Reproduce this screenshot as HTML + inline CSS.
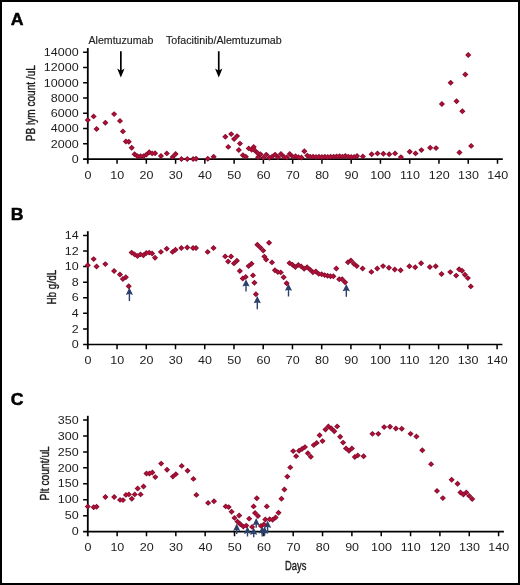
<!DOCTYPE html>
<html lang="en"><head><meta charset="utf-8"><title>Figure</title>
<style>
html,body{margin:0;padding:0;background:#fff;}
body{width:520px;height:585px;overflow:hidden;font-family:"Liberation Sans",sans-serif;}
svg{display:block;}
</style></head><body>
<svg width="520" height="585" viewBox="0 0 520 585" style="font-family:'Liberation Sans',sans-serif">
<rect x="0" y="0" width="520" height="585" fill="#fff"/>
<rect x="1" y="1" width="518" height="583" fill="none" stroke="#000" stroke-width="2"/>
<g id="panelA">
<path d="M87.8 48.10V163.75" stroke="#000" stroke-width="1.8" fill="none"/>
<path d="M83.10 159.05H502.80" stroke="#000" stroke-width="1.7" fill="none"/>
<path d="M83.10 143.80H87.8M83.10 128.55H87.8M83.10 113.30H87.8M83.10 98.05H87.8M83.10 82.80H87.8M83.10 67.55H87.8M83.10 52.30H87.8M117.06 159.05V163.75M146.33 159.05V163.75M175.59 159.05V163.75M204.86 159.05V163.75M234.12 159.05V163.75M263.39 159.05V163.75M292.65 159.05V163.75M321.91 159.05V163.75M351.18 159.05V163.75M380.44 159.05V163.75M409.71 159.05V163.75M438.97 159.05V163.75M468.24 159.05V163.75M497.50 159.05V163.75" stroke="#000" stroke-width="1.5" fill="none"/>
<text transform="translate(78.60 162.75) scale(1.203 1)" font-size="10.4" text-anchor="end" fill="#1c1c1c">0</text>
<text transform="translate(78.60 147.50) scale(1.203 1)" font-size="10.4" text-anchor="end" fill="#1c1c1c">2000</text>
<text transform="translate(78.60 132.25) scale(1.203 1)" font-size="10.4" text-anchor="end" fill="#1c1c1c">4000</text>
<text transform="translate(78.60 117.00) scale(1.203 1)" font-size="10.4" text-anchor="end" fill="#1c1c1c">6000</text>
<text transform="translate(78.60 101.75) scale(1.203 1)" font-size="10.4" text-anchor="end" fill="#1c1c1c">8000</text>
<text transform="translate(78.60 86.50) scale(1.203 1)" font-size="10.4" text-anchor="end" fill="#1c1c1c">10000</text>
<text transform="translate(78.60 71.25) scale(1.203 1)" font-size="10.4" text-anchor="end" fill="#1c1c1c">12000</text>
<text transform="translate(78.60 56.00) scale(1.203 1)" font-size="10.4" text-anchor="end" fill="#1c1c1c">14000</text>
<text transform="translate(88.00 178.65) scale(1.203 1)" font-size="10.4" text-anchor="middle" fill="#1c1c1c">0</text>
<text transform="translate(117.26 178.65) scale(1.203 1)" font-size="10.4" text-anchor="middle" fill="#1c1c1c">10</text>
<text transform="translate(146.53 178.65) scale(1.203 1)" font-size="10.4" text-anchor="middle" fill="#1c1c1c">20</text>
<text transform="translate(175.79 178.65) scale(1.203 1)" font-size="10.4" text-anchor="middle" fill="#1c1c1c">30</text>
<text transform="translate(205.06 178.65) scale(1.203 1)" font-size="10.4" text-anchor="middle" fill="#1c1c1c">40</text>
<text transform="translate(234.32 178.65) scale(1.203 1)" font-size="10.4" text-anchor="middle" fill="#1c1c1c">50</text>
<text transform="translate(263.59 178.65) scale(1.203 1)" font-size="10.4" text-anchor="middle" fill="#1c1c1c">60</text>
<text transform="translate(292.85 178.65) scale(1.203 1)" font-size="10.4" text-anchor="middle" fill="#1c1c1c">70</text>
<text transform="translate(322.11 178.65) scale(1.203 1)" font-size="10.4" text-anchor="middle" fill="#1c1c1c">80</text>
<text transform="translate(351.38 178.65) scale(1.203 1)" font-size="10.4" text-anchor="middle" fill="#1c1c1c">90</text>
<text transform="translate(380.64 178.65) scale(1.203 1)" font-size="10.4" text-anchor="middle" fill="#1c1c1c">100</text>
<text transform="translate(409.91 178.65) scale(1.203 1)" font-size="10.4" text-anchor="middle" fill="#1c1c1c">110</text>
<text transform="translate(439.17 178.65) scale(1.203 1)" font-size="10.4" text-anchor="middle" fill="#1c1c1c">120</text>
<text transform="translate(468.44 178.65) scale(1.203 1)" font-size="10.4" text-anchor="middle" fill="#1c1c1c">130</text>
<text transform="translate(497.70 178.65) scale(1.203 1)" font-size="10.4" text-anchor="middle" fill="#1c1c1c">140</text>
<g fill="#800d2d">
<path d="M87.80 117.15L90.85 120.10L87.80 123.05L84.75 120.10Z"/>
<path d="M93.65 113.45L96.70 116.40L93.65 119.35L90.60 116.40Z"/>
<path d="M96.58 126.05L99.63 129.00L96.58 131.95L93.53 129.00Z"/>
<path d="M105.36 119.85L108.41 122.80L105.36 125.75L102.31 122.80Z"/>
<path d="M114.14 111.15L117.19 114.10L114.14 117.05L111.09 114.10Z"/>
<path d="M119.99 117.95L123.04 120.90L119.99 123.85L116.94 120.90Z"/>
<path d="M122.92 128.45L125.97 131.40L122.92 134.35L119.87 131.40Z"/>
<path d="M125.84 138.55L128.89 141.50L125.84 144.45L122.79 141.50Z"/>
<path d="M128.77 138.75L131.82 141.70L128.77 144.65L125.72 141.70Z"/>
<path d="M131.70 144.85L134.75 147.80L131.70 150.75L128.65 147.80Z"/>
<path d="M134.62 151.35L137.67 154.30L134.62 157.25L131.57 154.30Z"/>
<path d="M137.55 153.35L140.60 156.30L137.55 159.25L134.50 156.30Z"/>
<path d="M140.48 153.35L143.53 156.30L140.48 159.25L137.43 156.30Z"/>
<path d="M143.40 153.35L146.45 156.30L143.40 159.25L140.35 156.30Z"/>
<path d="M146.33 151.65L149.38 154.60L146.33 157.55L143.28 154.60Z"/>
<path d="M149.25 149.35L152.31 152.30L149.25 155.25L146.20 152.30Z"/>
<path d="M152.18 150.45L155.23 153.40L152.18 156.35L149.13 153.40Z"/>
<path d="M155.11 150.25L158.16 153.20L155.11 156.15L152.06 153.20Z"/>
<path d="M160.96 153.05L164.01 156.00L160.96 158.95L157.91 156.00Z"/>
<path d="M166.81 150.45L169.86 153.40L166.81 156.35L163.76 153.40Z"/>
<path d="M172.67 153.95L175.72 156.90L172.67 159.85L169.62 156.90Z"/>
<path d="M175.59 151.05L178.64 154.00L175.59 156.95L172.54 154.00Z"/>
<path d="M181.45 156.05L184.50 159.00L181.45 161.95L178.40 159.00Z"/>
<path d="M187.30 156.05L190.35 159.00L187.30 161.95L184.25 159.00Z"/>
<path d="M193.15 156.05L196.20 159.00L193.15 161.95L190.10 159.00Z"/>
<path d="M196.08 155.85L199.13 158.80L196.08 161.75L193.03 158.80Z"/>
<path d="M207.78 155.85L210.83 158.80L207.78 161.75L204.73 158.80Z"/>
<path d="M213.64 153.75L216.69 156.70L213.64 159.65L210.59 156.70Z"/>
<path d="M225.34 133.75L228.39 136.70L225.34 139.65L222.29 136.70Z"/>
<path d="M228.27 143.95L231.32 146.90L228.27 149.85L225.22 146.90Z"/>
<path d="M231.19 131.15L234.25 134.10L231.19 137.05L228.14 134.10Z"/>
<path d="M234.12 136.05L237.17 139.00L234.12 141.95L231.07 139.00Z"/>
<path d="M237.05 133.15L240.10 136.10L237.05 139.05L234.00 136.10Z"/>
<path d="M239.97 140.65L243.02 143.60L239.97 146.55L236.92 143.60Z"/>
<path d="M238.80 147.05L241.85 150.00L238.80 152.95L235.75 150.00Z"/>
<path d="M242.90 152.25L245.95 155.20L242.90 158.15L239.85 155.20Z"/>
<path d="M245.83 153.75L248.88 156.70L245.83 159.65L242.78 156.70Z"/>
<path d="M248.75 145.45L251.80 148.40L248.75 151.35L245.70 148.40Z"/>
<path d="M251.68 146.85L254.73 149.80L251.68 152.75L248.63 149.80Z"/>
<path d="M253.73 144.05L256.78 147.00L253.73 149.95L250.68 147.00Z"/>
<path d="M254.61 147.35L257.66 150.30L254.61 153.25L251.56 150.30Z"/>
<path d="M257.53 150.05L260.58 153.00L257.53 155.95L254.48 153.00Z"/>
<path d="M258.12 154.25L261.17 157.20L258.12 160.15L255.07 157.20Z"/>
<path d="M260.46 151.25L263.51 154.20L260.46 157.15L257.41 154.20Z"/>
<path d="M263.39 154.65L266.44 157.60L263.39 160.55L260.34 157.60Z"/>
<path d="M266.31 151.65L269.36 154.60L266.31 157.55L263.26 154.60Z"/>
<path d="M269.24 154.85L272.29 157.80L269.24 160.75L266.19 157.80Z"/>
<path d="M272.16 153.65L275.21 156.60L272.16 159.55L269.11 156.60Z"/>
<path d="M275.09 151.65L278.14 154.60L275.09 157.55L272.04 154.60Z"/>
<path d="M278.02 154.35L281.07 157.30L278.02 160.25L274.97 157.30Z"/>
<path d="M280.94 151.05L283.99 154.00L280.94 156.95L277.89 154.00Z"/>
<path d="M283.87 153.85L286.92 156.80L283.87 159.75L280.82 156.80Z"/>
<path d="M286.80 154.45L289.85 157.40L286.80 160.35L283.75 157.40Z"/>
<path d="M289.72 151.05L292.77 154.00L289.72 156.95L286.67 154.00Z"/>
<path d="M292.65 153.65L295.70 156.60L292.65 159.55L289.60 156.60Z"/>
<path d="M295.58 153.25L298.63 156.20L295.58 159.15L292.53 156.20Z"/>
<path d="M298.50 154.25L301.55 157.20L298.50 160.15L295.45 157.20Z"/>
<path d="M301.43 154.55L304.48 157.50L301.43 160.45L298.38 157.50Z"/>
<path d="M304.36 148.35L307.41 151.30L304.36 154.25L301.31 151.30Z"/>
<path d="M307.28 152.65L310.33 155.60L307.28 158.55L304.23 155.60Z"/>
<path d="M310.21 153.85L313.26 156.80L310.21 159.75L307.16 156.80Z"/>
<path d="M313.13 153.65L316.19 156.60L313.13 159.55L310.08 156.60Z"/>
<path d="M316.06 154.05L319.11 157.00L316.06 159.95L313.01 157.00Z"/>
<path d="M318.99 153.75L322.04 156.70L318.99 159.65L315.94 156.70Z"/>
<path d="M321.91 154.05L324.96 157.00L321.91 159.95L318.86 157.00Z"/>
<path d="M324.84 153.85L327.89 156.80L324.84 159.75L321.79 156.80Z"/>
<path d="M327.77 154.05L330.82 157.00L327.77 159.95L324.72 157.00Z"/>
<path d="M330.69 153.85L333.74 156.80L330.69 159.75L327.64 156.80Z"/>
<path d="M333.62 153.65L336.67 156.60L333.62 159.55L330.57 156.60Z"/>
<path d="M336.55 153.45L339.60 156.40L336.55 159.35L333.50 156.40Z"/>
<path d="M339.47 153.25L342.52 156.20L339.47 159.15L336.42 156.20Z"/>
<path d="M342.40 153.65L345.45 156.60L342.40 159.55L339.35 156.60Z"/>
<path d="M345.33 152.95L348.38 155.90L345.33 158.85L342.28 155.90Z"/>
<path d="M348.25 153.65L351.30 156.60L348.25 159.55L345.20 156.60Z"/>
<path d="M351.18 153.95L354.23 156.90L351.18 159.85L348.13 156.90Z"/>
<path d="M354.10 153.95L357.15 156.90L354.10 159.85L351.05 156.90Z"/>
<path d="M357.03 153.05L360.08 156.00L357.03 158.95L353.98 156.00Z"/>
<path d="M362.88 153.45L365.93 156.40L362.88 159.35L359.83 156.40Z"/>
<path d="M371.66 151.35L374.71 154.30L371.66 157.25L368.61 154.30Z"/>
<path d="M377.52 150.45L380.57 153.40L377.52 156.35L374.47 153.40Z"/>
<path d="M383.37 150.85L386.42 153.80L383.37 156.75L380.32 153.80Z"/>
<path d="M389.22 151.35L392.27 154.30L389.22 157.25L386.17 154.30Z"/>
<path d="M395.07 150.45L398.12 153.40L395.07 156.35L392.02 153.40Z"/>
<path d="M400.93 154.15L403.98 157.10L400.93 160.05L397.88 157.10Z"/>
<path d="M409.71 148.75L412.76 151.70L409.71 154.65L406.66 151.70Z"/>
<path d="M415.56 150.45L418.61 153.40L415.56 156.35L412.51 153.40Z"/>
<path d="M421.41 147.15L424.46 150.10L421.41 153.05L418.36 150.10Z"/>
<path d="M430.19 144.85L433.24 147.80L430.19 150.75L427.14 147.80Z"/>
<path d="M436.04 145.15L439.09 148.10L436.04 151.05L432.99 148.10Z"/>
<path d="M441.90 101.05L444.95 104.00L441.90 106.95L438.85 104.00Z"/>
<path d="M450.68 79.85L453.73 82.80L450.68 85.75L447.63 82.80Z"/>
<path d="M456.53 98.35L459.58 101.30L456.53 104.25L453.48 101.30Z"/>
<path d="M462.38 108.35L465.43 111.30L462.38 114.25L459.33 111.30Z"/>
<path d="M465.31 71.55L468.36 74.50L465.31 77.45L462.26 74.50Z"/>
<path d="M468.24 52.05L471.29 55.00L468.24 57.95L465.19 55.00Z"/>
<path d="M459.46 149.55L462.51 152.50L459.46 155.45L456.41 152.50Z"/>
<path d="M471.16 142.95L474.21 145.90L471.16 148.85L468.11 145.90Z"/>
</g>
<g fill="#b00f37">
<path d="M87.80 118.20L89.80 120.10L87.80 122.00L85.80 120.10Z"/>
<path d="M93.65 114.50L95.65 116.40L93.65 118.30L91.65 116.40Z"/>
<path d="M96.58 127.10L98.58 129.00L96.58 130.90L94.58 129.00Z"/>
<path d="M105.36 120.90L107.36 122.80L105.36 124.70L103.36 122.80Z"/>
<path d="M114.14 112.20L116.14 114.10L114.14 116.00L112.14 114.10Z"/>
<path d="M119.99 119.00L121.99 120.90L119.99 122.80L117.99 120.90Z"/>
<path d="M122.92 129.50L124.92 131.40L122.92 133.30L120.92 131.40Z"/>
<path d="M125.84 139.60L127.84 141.50L125.84 143.40L123.84 141.50Z"/>
<path d="M128.77 139.80L130.77 141.70L128.77 143.60L126.77 141.70Z"/>
<path d="M131.70 145.90L133.70 147.80L131.70 149.70L129.70 147.80Z"/>
<path d="M134.62 152.40L136.62 154.30L134.62 156.20L132.62 154.30Z"/>
<path d="M137.55 154.40L139.55 156.30L137.55 158.20L135.55 156.30Z"/>
<path d="M140.48 154.40L142.48 156.30L140.48 158.20L138.48 156.30Z"/>
<path d="M143.40 154.40L145.40 156.30L143.40 158.20L141.40 156.30Z"/>
<path d="M146.33 152.70L148.33 154.60L146.33 156.50L144.33 154.60Z"/>
<path d="M149.25 150.40L151.25 152.30L149.25 154.20L147.25 152.30Z"/>
<path d="M152.18 151.50L154.18 153.40L152.18 155.30L150.18 153.40Z"/>
<path d="M155.11 151.30L157.11 153.20L155.11 155.10L153.11 153.20Z"/>
<path d="M160.96 154.10L162.96 156.00L160.96 157.90L158.96 156.00Z"/>
<path d="M166.81 151.50L168.81 153.40L166.81 155.30L164.81 153.40Z"/>
<path d="M172.67 155.00L174.67 156.90L172.67 158.80L170.67 156.90Z"/>
<path d="M175.59 152.10L177.59 154.00L175.59 155.90L173.59 154.00Z"/>
<path d="M181.45 157.10L183.45 159.00L181.45 160.90L179.45 159.00Z"/>
<path d="M187.30 157.10L189.30 159.00L187.30 160.90L185.30 159.00Z"/>
<path d="M193.15 157.10L195.15 159.00L193.15 160.90L191.15 159.00Z"/>
<path d="M196.08 156.90L198.08 158.80L196.08 160.70L194.08 158.80Z"/>
<path d="M207.78 156.90L209.78 158.80L207.78 160.70L205.78 158.80Z"/>
<path d="M213.64 154.80L215.64 156.70L213.64 158.60L211.64 156.70Z"/>
<path d="M225.34 134.80L227.34 136.70L225.34 138.60L223.34 136.70Z"/>
<path d="M228.27 145.00L230.27 146.90L228.27 148.80L226.27 146.90Z"/>
<path d="M231.19 132.20L233.19 134.10L231.19 136.00L229.19 134.10Z"/>
<path d="M234.12 137.10L236.12 139.00L234.12 140.90L232.12 139.00Z"/>
<path d="M237.05 134.20L239.05 136.10L237.05 138.00L235.05 136.10Z"/>
<path d="M239.97 141.70L241.97 143.60L239.97 145.50L237.97 143.60Z"/>
<path d="M238.80 148.10L240.80 150.00L238.80 151.90L236.80 150.00Z"/>
<path d="M242.90 153.30L244.90 155.20L242.90 157.10L240.90 155.20Z"/>
<path d="M245.83 154.80L247.83 156.70L245.83 158.60L243.83 156.70Z"/>
<path d="M248.75 146.50L250.75 148.40L248.75 150.30L246.75 148.40Z"/>
<path d="M251.68 147.90L253.68 149.80L251.68 151.70L249.68 149.80Z"/>
<path d="M253.73 145.10L255.73 147.00L253.73 148.90L251.73 147.00Z"/>
<path d="M254.61 148.40L256.61 150.30L254.61 152.20L252.61 150.30Z"/>
<path d="M257.53 151.10L259.53 153.00L257.53 154.90L255.53 153.00Z"/>
<path d="M258.12 155.30L260.12 157.20L258.12 159.10L256.12 157.20Z"/>
<path d="M260.46 152.30L262.46 154.20L260.46 156.10L258.46 154.20Z"/>
<path d="M263.39 155.70L265.39 157.60L263.39 159.50L261.39 157.60Z"/>
<path d="M266.31 152.70L268.31 154.60L266.31 156.50L264.31 154.60Z"/>
<path d="M269.24 155.90L271.24 157.80L269.24 159.70L267.24 157.80Z"/>
<path d="M272.16 154.70L274.16 156.60L272.16 158.50L270.16 156.60Z"/>
<path d="M275.09 152.70L277.09 154.60L275.09 156.50L273.09 154.60Z"/>
<path d="M278.02 155.40L280.02 157.30L278.02 159.20L276.02 157.30Z"/>
<path d="M280.94 152.10L282.94 154.00L280.94 155.90L278.94 154.00Z"/>
<path d="M283.87 154.90L285.87 156.80L283.87 158.70L281.87 156.80Z"/>
<path d="M286.80 155.50L288.80 157.40L286.80 159.30L284.80 157.40Z"/>
<path d="M289.72 152.10L291.72 154.00L289.72 155.90L287.72 154.00Z"/>
<path d="M292.65 154.70L294.65 156.60L292.65 158.50L290.65 156.60Z"/>
<path d="M295.58 154.30L297.58 156.20L295.58 158.10L293.58 156.20Z"/>
<path d="M298.50 155.30L300.50 157.20L298.50 159.10L296.50 157.20Z"/>
<path d="M301.43 155.60L303.43 157.50L301.43 159.40L299.43 157.50Z"/>
<path d="M304.36 149.40L306.36 151.30L304.36 153.20L302.36 151.30Z"/>
<path d="M307.28 153.70L309.28 155.60L307.28 157.50L305.28 155.60Z"/>
<path d="M310.21 154.90L312.21 156.80L310.21 158.70L308.21 156.80Z"/>
<path d="M313.13 154.70L315.13 156.60L313.13 158.50L311.13 156.60Z"/>
<path d="M316.06 155.10L318.06 157.00L316.06 158.90L314.06 157.00Z"/>
<path d="M318.99 154.80L320.99 156.70L318.99 158.60L316.99 156.70Z"/>
<path d="M321.91 155.10L323.91 157.00L321.91 158.90L319.91 157.00Z"/>
<path d="M324.84 154.90L326.84 156.80L324.84 158.70L322.84 156.80Z"/>
<path d="M327.77 155.10L329.77 157.00L327.77 158.90L325.77 157.00Z"/>
<path d="M330.69 154.90L332.69 156.80L330.69 158.70L328.69 156.80Z"/>
<path d="M333.62 154.70L335.62 156.60L333.62 158.50L331.62 156.60Z"/>
<path d="M336.55 154.50L338.55 156.40L336.55 158.30L334.55 156.40Z"/>
<path d="M339.47 154.30L341.47 156.20L339.47 158.10L337.47 156.20Z"/>
<path d="M342.40 154.70L344.40 156.60L342.40 158.50L340.40 156.60Z"/>
<path d="M345.33 154.00L347.33 155.90L345.33 157.80L343.33 155.90Z"/>
<path d="M348.25 154.70L350.25 156.60L348.25 158.50L346.25 156.60Z"/>
<path d="M351.18 155.00L353.18 156.90L351.18 158.80L349.18 156.90Z"/>
<path d="M354.10 155.00L356.10 156.90L354.10 158.80L352.10 156.90Z"/>
<path d="M357.03 154.10L359.03 156.00L357.03 157.90L355.03 156.00Z"/>
<path d="M362.88 154.50L364.88 156.40L362.88 158.30L360.88 156.40Z"/>
<path d="M371.66 152.40L373.66 154.30L371.66 156.20L369.66 154.30Z"/>
<path d="M377.52 151.50L379.52 153.40L377.52 155.30L375.52 153.40Z"/>
<path d="M383.37 151.90L385.37 153.80L383.37 155.70L381.37 153.80Z"/>
<path d="M389.22 152.40L391.22 154.30L389.22 156.20L387.22 154.30Z"/>
<path d="M395.07 151.50L397.07 153.40L395.07 155.30L393.07 153.40Z"/>
<path d="M400.93 155.20L402.93 157.10L400.93 159.00L398.93 157.10Z"/>
<path d="M409.71 149.80L411.71 151.70L409.71 153.60L407.71 151.70Z"/>
<path d="M415.56 151.50L417.56 153.40L415.56 155.30L413.56 153.40Z"/>
<path d="M421.41 148.20L423.41 150.10L421.41 152.00L419.41 150.10Z"/>
<path d="M430.19 145.90L432.19 147.80L430.19 149.70L428.19 147.80Z"/>
<path d="M436.04 146.20L438.04 148.10L436.04 150.00L434.04 148.10Z"/>
<path d="M441.90 102.10L443.90 104.00L441.90 105.90L439.90 104.00Z"/>
<path d="M450.68 80.90L452.68 82.80L450.68 84.70L448.68 82.80Z"/>
<path d="M456.53 99.40L458.53 101.30L456.53 103.20L454.53 101.30Z"/>
<path d="M462.38 109.40L464.38 111.30L462.38 113.20L460.38 111.30Z"/>
<path d="M465.31 72.60L467.31 74.50L465.31 76.40L463.31 74.50Z"/>
<path d="M468.24 53.10L470.24 55.00L468.24 56.90L466.24 55.00Z"/>
<path d="M459.46 150.60L461.46 152.50L459.46 154.40L457.46 152.50Z"/>
<path d="M471.16 144.00L473.16 145.90L471.16 147.80L469.16 145.90Z"/>
</g>
</g>
<g id="panelB">
<path d="M87.8 231.20V349.20" stroke="#000" stroke-width="1.8" fill="none"/>
<path d="M83.10 344.5H502.40" stroke="#000" stroke-width="1.7" fill="none"/>
<path d="M83.10 328.91H87.8M83.10 313.33H87.8M83.10 297.74H87.8M83.10 282.16H87.8M83.10 266.57H87.8M83.10 250.99H87.8M83.10 235.40H87.8M117.04 344.5V349.20M146.27 344.5V349.20M175.51 344.5V349.20M204.74 344.5V349.20M233.98 344.5V349.20M263.21 344.5V349.20M292.45 344.5V349.20M321.69 344.5V349.20M350.92 344.5V349.20M380.16 344.5V349.20M409.39 344.5V349.20M438.63 344.5V349.20M467.86 344.5V349.20M497.10 344.5V349.20" stroke="#000" stroke-width="1.5" fill="none"/>
<text transform="translate(78.60 348.20) scale(1.203 1)" font-size="10.4" text-anchor="end" fill="#1c1c1c">0</text>
<text transform="translate(78.60 332.61) scale(1.203 1)" font-size="10.4" text-anchor="end" fill="#1c1c1c">2</text>
<text transform="translate(78.60 317.03) scale(1.203 1)" font-size="10.4" text-anchor="end" fill="#1c1c1c">4</text>
<text transform="translate(78.60 301.44) scale(1.203 1)" font-size="10.4" text-anchor="end" fill="#1c1c1c">6</text>
<text transform="translate(78.60 285.86) scale(1.203 1)" font-size="10.4" text-anchor="end" fill="#1c1c1c">8</text>
<text transform="translate(78.60 270.27) scale(1.203 1)" font-size="10.4" text-anchor="end" fill="#1c1c1c">10</text>
<text transform="translate(78.60 254.69) scale(1.203 1)" font-size="10.4" text-anchor="end" fill="#1c1c1c">12</text>
<text transform="translate(78.60 239.10) scale(1.203 1)" font-size="10.4" text-anchor="end" fill="#1c1c1c">14</text>
<text transform="translate(88.00 364.00) scale(1.203 1)" font-size="10.4" text-anchor="middle" fill="#1c1c1c">0</text>
<text transform="translate(117.24 364.00) scale(1.203 1)" font-size="10.4" text-anchor="middle" fill="#1c1c1c">10</text>
<text transform="translate(146.47 364.00) scale(1.203 1)" font-size="10.4" text-anchor="middle" fill="#1c1c1c">20</text>
<text transform="translate(175.71 364.00) scale(1.203 1)" font-size="10.4" text-anchor="middle" fill="#1c1c1c">30</text>
<text transform="translate(204.94 364.00) scale(1.203 1)" font-size="10.4" text-anchor="middle" fill="#1c1c1c">40</text>
<text transform="translate(234.18 364.00) scale(1.203 1)" font-size="10.4" text-anchor="middle" fill="#1c1c1c">50</text>
<text transform="translate(263.41 364.00) scale(1.203 1)" font-size="10.4" text-anchor="middle" fill="#1c1c1c">60</text>
<text transform="translate(292.65 364.00) scale(1.203 1)" font-size="10.4" text-anchor="middle" fill="#1c1c1c">70</text>
<text transform="translate(321.89 364.00) scale(1.203 1)" font-size="10.4" text-anchor="middle" fill="#1c1c1c">80</text>
<text transform="translate(351.12 364.00) scale(1.203 1)" font-size="10.4" text-anchor="middle" fill="#1c1c1c">90</text>
<text transform="translate(380.36 364.00) scale(1.203 1)" font-size="10.4" text-anchor="middle" fill="#1c1c1c">100</text>
<text transform="translate(409.59 364.00) scale(1.203 1)" font-size="10.4" text-anchor="middle" fill="#1c1c1c">110</text>
<text transform="translate(438.83 364.00) scale(1.203 1)" font-size="10.4" text-anchor="middle" fill="#1c1c1c">120</text>
<text transform="translate(468.06 364.00) scale(1.203 1)" font-size="10.4" text-anchor="middle" fill="#1c1c1c">130</text>
<text transform="translate(497.30 364.00) scale(1.203 1)" font-size="10.4" text-anchor="middle" fill="#1c1c1c">140</text>
<g fill="#2b416c">
<path d="M129.40 287.60L133.00 295.00L130.10 294.10L130.10 301.00L128.70 301.00L128.70 294.10L125.80 295.00Z"/>
<path d="M246.00 279.20L249.60 286.60L246.70 285.70L246.70 291.50L245.30 291.50L245.30 285.70L242.40 286.60Z"/>
<path d="M257.30 295.90L260.90 303.30L258.00 302.40L258.00 309.30L256.60 309.30L256.60 302.40L253.70 303.30Z"/>
<path d="M288.50 283.40L292.10 290.80L289.20 289.90L289.20 296.40L287.80 296.40L287.80 289.90L284.90 290.80Z"/>
<path d="M346.30 283.90L349.90 291.30L347.00 290.40L347.00 296.80L345.60 296.80L345.60 290.40L342.70 291.30Z"/>
</g>
<g fill="#800d2d">
<path d="M87.80 262.25L90.85 265.20L87.80 268.15L84.75 265.20Z"/>
<path d="M93.65 256.15L96.70 259.10L93.65 262.05L90.60 259.10Z"/>
<path d="M96.57 263.55L99.62 266.50L96.57 269.45L93.52 266.50Z"/>
<path d="M105.34 261.15L108.39 264.10L105.34 267.05L102.29 264.10Z"/>
<path d="M114.11 268.05L117.16 271.00L114.11 273.95L111.06 271.00Z"/>
<path d="M119.96 271.55L123.01 274.50L119.96 277.45L116.91 274.50Z"/>
<path d="M122.88 276.05L125.93 279.00L122.88 281.95L119.83 279.00Z"/>
<path d="M125.81 274.25L128.86 277.20L125.81 280.15L122.76 277.20Z"/>
<path d="M128.73 283.25L131.78 286.20L128.73 289.15L125.68 286.20Z"/>
<path d="M131.65 249.65L134.70 252.60L131.65 255.55L128.60 252.60Z"/>
<path d="M134.58 251.45L137.63 254.40L134.58 257.35L131.53 254.40Z"/>
<path d="M137.50 253.05L140.55 256.00L137.50 258.95L134.45 256.00Z"/>
<path d="M140.42 251.45L143.47 254.40L140.42 257.35L137.37 254.40Z"/>
<path d="M143.35 252.35L146.40 255.30L143.35 258.25L140.30 255.30Z"/>
<path d="M146.27 250.05L149.32 253.00L146.27 255.95L143.22 253.00Z"/>
<path d="M149.19 249.65L152.25 252.60L149.19 255.55L146.14 252.60Z"/>
<path d="M152.12 250.55L155.17 253.50L152.12 256.45L149.07 253.50Z"/>
<path d="M155.04 254.85L158.09 257.80L155.04 260.75L151.99 257.80Z"/>
<path d="M160.89 248.95L163.94 251.90L160.89 254.85L157.84 251.90Z"/>
<path d="M166.74 245.75L169.79 248.70L166.74 251.65L163.69 248.70Z"/>
<path d="M172.58 248.95L175.63 251.90L172.58 254.85L169.53 251.90Z"/>
<path d="M175.51 246.85L178.56 249.80L175.51 252.75L172.46 249.80Z"/>
<path d="M181.35 245.10L184.40 248.05L181.35 251.00L178.30 248.05Z"/>
<path d="M187.20 244.55L190.25 247.50L187.20 250.45L184.15 247.50Z"/>
<path d="M193.05 245.10L196.10 248.05L193.05 251.00L190.00 248.05Z"/>
<path d="M195.97 245.10L199.02 248.05L195.97 251.00L192.92 248.05Z"/>
<path d="M207.67 248.95L210.72 251.90L207.67 254.85L204.62 251.90Z"/>
<path d="M213.51 245.10L216.56 248.05L213.51 251.00L210.46 248.05Z"/>
<path d="M225.21 253.45L228.26 256.40L225.21 259.35L222.16 256.40Z"/>
<path d="M228.13 258.55L231.18 261.50L228.13 264.45L225.08 261.50Z"/>
<path d="M231.06 253.55L234.11 256.50L231.06 259.45L228.00 256.50Z"/>
<path d="M233.98 260.45L237.03 263.40L233.98 266.35L230.93 263.40Z"/>
<path d="M236.90 257.75L239.95 260.70L236.90 263.65L233.85 260.70Z"/>
<path d="M239.83 268.05L242.88 271.00L239.83 273.95L236.78 271.00Z"/>
<path d="M242.75 275.55L245.80 278.50L242.75 281.45L239.70 278.50Z"/>
<path d="M245.67 273.95L248.72 276.90L245.67 279.85L242.62 276.90Z"/>
<path d="M248.60 263.15L251.65 266.10L248.60 269.05L245.55 266.10Z"/>
<path d="M251.52 260.85L254.57 263.80L251.52 266.75L248.47 263.80Z"/>
<path d="M252.98 272.45L256.03 275.40L252.98 278.35L249.93 275.40Z"/>
<path d="M254.44 279.75L257.49 282.70L254.44 285.65L251.39 282.70Z"/>
<path d="M255.91 291.25L258.96 294.20L255.91 297.15L252.86 294.20Z"/>
<path d="M257.37 241.75L260.42 244.70L257.37 247.65L254.32 244.70Z"/>
<path d="M260.29 244.65L263.34 247.60L260.29 250.55L257.24 247.60Z"/>
<path d="M263.21 247.65L266.26 250.60L263.21 253.55L260.16 250.60Z"/>
<path d="M264.38 253.65L267.43 256.60L264.38 259.55L261.33 256.60Z"/>
<path d="M266.14 256.55L269.19 259.50L266.14 262.45L263.09 259.50Z"/>
<path d="M269.06 239.85L272.11 242.80L269.06 245.75L266.01 242.80Z"/>
<path d="M271.99 259.45L275.04 262.40L271.99 265.35L268.94 262.40Z"/>
<path d="M274.91 267.25L277.96 270.20L274.91 273.15L271.86 270.20Z"/>
<path d="M277.83 269.15L280.88 272.10L277.83 275.05L274.78 272.10Z"/>
<path d="M280.76 269.45L283.81 272.40L280.76 275.35L277.71 272.40Z"/>
<path d="M283.68 274.25L286.73 277.20L283.68 280.15L280.63 277.20Z"/>
<path d="M286.60 280.35L289.65 283.30L286.60 286.25L283.55 283.30Z"/>
<path d="M289.53 260.15L292.58 263.10L289.53 266.05L286.48 263.10Z"/>
<path d="M292.45 261.75L295.50 264.70L292.45 267.65L289.40 264.70Z"/>
<path d="M295.37 264.15L298.42 267.10L295.37 270.05L292.32 267.10Z"/>
<path d="M298.30 261.95L301.35 264.90L298.30 267.85L295.25 264.90Z"/>
<path d="M301.22 263.45L304.27 266.40L301.22 269.35L298.17 266.40Z"/>
<path d="M304.14 265.85L307.19 268.80L304.14 271.75L301.09 268.80Z"/>
<path d="M307.07 264.35L310.12 267.30L307.07 270.25L304.02 267.30Z"/>
<path d="M309.99 266.65L313.04 269.60L309.99 272.55L306.94 269.60Z"/>
<path d="M312.91 269.25L315.96 272.20L312.91 275.15L309.86 272.20Z"/>
<path d="M315.84 268.55L318.89 271.50L315.84 274.45L312.79 271.50Z"/>
<path d="M318.76 270.95L321.81 273.90L318.76 276.85L315.71 273.90Z"/>
<path d="M321.69 271.35L324.74 274.30L321.69 277.25L318.64 274.30Z"/>
<path d="M324.61 272.15L327.66 275.10L324.61 278.05L321.56 275.10Z"/>
<path d="M327.53 272.75L330.58 275.70L327.53 278.65L324.48 275.70Z"/>
<path d="M330.46 273.35L333.51 276.30L330.46 279.25L327.41 276.30Z"/>
<path d="M333.38 273.35L336.43 276.30L333.38 279.25L330.33 276.30Z"/>
<path d="M336.30 265.55L339.35 268.50L336.30 271.45L333.25 268.50Z"/>
<path d="M339.23 276.35L342.28 279.30L339.23 282.25L336.18 279.30Z"/>
<path d="M342.15 276.35L345.20 279.30L342.15 282.25L339.10 279.30Z"/>
<path d="M345.07 279.35L348.12 282.30L345.07 285.25L342.02 282.30Z"/>
<path d="M348.00 259.35L351.05 262.30L348.00 265.25L344.95 262.30Z"/>
<path d="M350.92 257.45L353.97 260.40L350.92 263.35L347.87 260.40Z"/>
<path d="M353.85 260.75L356.90 263.70L353.85 266.65L350.80 263.70Z"/>
<path d="M356.77 263.15L359.82 266.10L356.77 269.05L353.72 266.10Z"/>
<path d="M362.62 265.55L365.67 268.50L362.62 271.45L359.57 268.50Z"/>
<path d="M371.39 268.95L374.44 271.90L371.39 274.85L368.34 271.90Z"/>
<path d="M377.23 265.55L380.28 268.50L377.23 271.45L374.18 268.50Z"/>
<path d="M383.08 263.15L386.13 266.10L383.08 269.05L380.03 266.10Z"/>
<path d="M388.93 264.75L391.98 267.70L388.93 270.65L385.88 267.70Z"/>
<path d="M394.77 266.55L397.82 269.50L394.77 272.45L391.72 269.50Z"/>
<path d="M400.62 267.35L403.67 270.30L400.62 273.25L397.57 270.30Z"/>
<path d="M409.39 263.35L412.44 266.30L409.39 269.25L406.34 266.30Z"/>
<path d="M415.24 264.35L418.29 267.30L415.24 270.25L412.19 267.30Z"/>
<path d="M421.09 260.35L424.14 263.30L421.09 266.25L418.04 263.30Z"/>
<path d="M429.86 264.05L432.91 267.00L429.86 269.95L426.81 267.00Z"/>
<path d="M435.70 263.25L438.75 266.20L435.70 269.15L432.65 266.20Z"/>
<path d="M441.55 271.05L444.60 274.00L441.55 276.95L438.50 274.00Z"/>
<path d="M450.32 269.15L453.37 272.10L450.32 275.05L447.27 272.10Z"/>
<path d="M456.17 272.65L459.22 275.60L456.17 278.55L453.12 275.60Z"/>
<path d="M459.09 266.35L462.14 269.30L459.09 272.25L456.04 269.30Z"/>
<path d="M462.02 267.75L465.07 270.70L462.02 273.65L458.97 270.70Z"/>
<path d="M464.94 271.75L467.99 274.70L464.94 277.65L461.89 274.70Z"/>
<path d="M467.86 275.15L470.91 278.10L467.86 281.05L464.81 278.10Z"/>
<path d="M470.79 283.45L473.84 286.40L470.79 289.35L467.74 286.40Z"/>
</g>
<g fill="#b00f37">
<path d="M87.80 263.30L89.80 265.20L87.80 267.10L85.80 265.20Z"/>
<path d="M93.65 257.20L95.65 259.10L93.65 261.00L91.65 259.10Z"/>
<path d="M96.57 264.60L98.57 266.50L96.57 268.40L94.57 266.50Z"/>
<path d="M105.34 262.20L107.34 264.10L105.34 266.00L103.34 264.10Z"/>
<path d="M114.11 269.10L116.11 271.00L114.11 272.90L112.11 271.00Z"/>
<path d="M119.96 272.60L121.96 274.50L119.96 276.40L117.96 274.50Z"/>
<path d="M122.88 277.10L124.88 279.00L122.88 280.90L120.88 279.00Z"/>
<path d="M125.81 275.30L127.81 277.20L125.81 279.10L123.81 277.20Z"/>
<path d="M128.73 284.30L130.73 286.20L128.73 288.10L126.73 286.20Z"/>
<path d="M131.65 250.70L133.65 252.60L131.65 254.50L129.65 252.60Z"/>
<path d="M134.58 252.50L136.58 254.40L134.58 256.30L132.58 254.40Z"/>
<path d="M137.50 254.10L139.50 256.00L137.50 257.90L135.50 256.00Z"/>
<path d="M140.42 252.50L142.42 254.40L140.42 256.30L138.42 254.40Z"/>
<path d="M143.35 253.40L145.35 255.30L143.35 257.20L141.35 255.30Z"/>
<path d="M146.27 251.10L148.27 253.00L146.27 254.90L144.27 253.00Z"/>
<path d="M149.19 250.70L151.19 252.60L149.19 254.50L147.19 252.60Z"/>
<path d="M152.12 251.60L154.12 253.50L152.12 255.40L150.12 253.50Z"/>
<path d="M155.04 255.90L157.04 257.80L155.04 259.70L153.04 257.80Z"/>
<path d="M160.89 250.00L162.89 251.90L160.89 253.80L158.89 251.90Z"/>
<path d="M166.74 246.80L168.74 248.70L166.74 250.60L164.74 248.70Z"/>
<path d="M172.58 250.00L174.58 251.90L172.58 253.80L170.58 251.90Z"/>
<path d="M175.51 247.90L177.51 249.80L175.51 251.70L173.51 249.80Z"/>
<path d="M181.35 246.15L183.35 248.05L181.35 249.95L179.35 248.05Z"/>
<path d="M187.20 245.60L189.20 247.50L187.20 249.40L185.20 247.50Z"/>
<path d="M193.05 246.15L195.05 248.05L193.05 249.95L191.05 248.05Z"/>
<path d="M195.97 246.15L197.97 248.05L195.97 249.95L193.97 248.05Z"/>
<path d="M207.67 250.00L209.67 251.90L207.67 253.80L205.67 251.90Z"/>
<path d="M213.51 246.15L215.51 248.05L213.51 249.95L211.51 248.05Z"/>
<path d="M225.21 254.50L227.21 256.40L225.21 258.30L223.21 256.40Z"/>
<path d="M228.13 259.60L230.13 261.50L228.13 263.40L226.13 261.50Z"/>
<path d="M231.06 254.60L233.06 256.50L231.06 258.40L229.06 256.50Z"/>
<path d="M233.98 261.50L235.98 263.40L233.98 265.30L231.98 263.40Z"/>
<path d="M236.90 258.80L238.90 260.70L236.90 262.60L234.90 260.70Z"/>
<path d="M239.83 269.10L241.83 271.00L239.83 272.90L237.83 271.00Z"/>
<path d="M242.75 276.60L244.75 278.50L242.75 280.40L240.75 278.50Z"/>
<path d="M245.67 275.00L247.67 276.90L245.67 278.80L243.67 276.90Z"/>
<path d="M248.60 264.20L250.60 266.10L248.60 268.00L246.60 266.10Z"/>
<path d="M251.52 261.90L253.52 263.80L251.52 265.70L249.52 263.80Z"/>
<path d="M252.98 273.50L254.98 275.40L252.98 277.30L250.98 275.40Z"/>
<path d="M254.44 280.80L256.44 282.70L254.44 284.60L252.44 282.70Z"/>
<path d="M255.91 292.30L257.91 294.20L255.91 296.10L253.91 294.20Z"/>
<path d="M257.37 242.80L259.37 244.70L257.37 246.60L255.37 244.70Z"/>
<path d="M260.29 245.70L262.29 247.60L260.29 249.50L258.29 247.60Z"/>
<path d="M263.21 248.70L265.21 250.60L263.21 252.50L261.21 250.60Z"/>
<path d="M264.38 254.70L266.38 256.60L264.38 258.50L262.38 256.60Z"/>
<path d="M266.14 257.60L268.14 259.50L266.14 261.40L264.14 259.50Z"/>
<path d="M269.06 240.90L271.06 242.80L269.06 244.70L267.06 242.80Z"/>
<path d="M271.99 260.50L273.99 262.40L271.99 264.30L269.99 262.40Z"/>
<path d="M274.91 268.30L276.91 270.20L274.91 272.10L272.91 270.20Z"/>
<path d="M277.83 270.20L279.83 272.10L277.83 274.00L275.83 272.10Z"/>
<path d="M280.76 270.50L282.76 272.40L280.76 274.30L278.76 272.40Z"/>
<path d="M283.68 275.30L285.68 277.20L283.68 279.10L281.68 277.20Z"/>
<path d="M286.60 281.40L288.60 283.30L286.60 285.20L284.60 283.30Z"/>
<path d="M289.53 261.20L291.53 263.10L289.53 265.00L287.53 263.10Z"/>
<path d="M292.45 262.80L294.45 264.70L292.45 266.60L290.45 264.70Z"/>
<path d="M295.37 265.20L297.37 267.10L295.37 269.00L293.37 267.10Z"/>
<path d="M298.30 263.00L300.30 264.90L298.30 266.80L296.30 264.90Z"/>
<path d="M301.22 264.50L303.22 266.40L301.22 268.30L299.22 266.40Z"/>
<path d="M304.14 266.90L306.14 268.80L304.14 270.70L302.14 268.80Z"/>
<path d="M307.07 265.40L309.07 267.30L307.07 269.20L305.07 267.30Z"/>
<path d="M309.99 267.70L311.99 269.60L309.99 271.50L307.99 269.60Z"/>
<path d="M312.91 270.30L314.91 272.20L312.91 274.10L310.91 272.20Z"/>
<path d="M315.84 269.60L317.84 271.50L315.84 273.40L313.84 271.50Z"/>
<path d="M318.76 272.00L320.76 273.90L318.76 275.80L316.76 273.90Z"/>
<path d="M321.69 272.40L323.69 274.30L321.69 276.20L319.69 274.30Z"/>
<path d="M324.61 273.20L326.61 275.10L324.61 277.00L322.61 275.10Z"/>
<path d="M327.53 273.80L329.53 275.70L327.53 277.60L325.53 275.70Z"/>
<path d="M330.46 274.40L332.46 276.30L330.46 278.20L328.46 276.30Z"/>
<path d="M333.38 274.40L335.38 276.30L333.38 278.20L331.38 276.30Z"/>
<path d="M336.30 266.60L338.30 268.50L336.30 270.40L334.30 268.50Z"/>
<path d="M339.23 277.40L341.23 279.30L339.23 281.20L337.23 279.30Z"/>
<path d="M342.15 277.40L344.15 279.30L342.15 281.20L340.15 279.30Z"/>
<path d="M345.07 280.40L347.07 282.30L345.07 284.20L343.07 282.30Z"/>
<path d="M348.00 260.40L350.00 262.30L348.00 264.20L346.00 262.30Z"/>
<path d="M350.92 258.50L352.92 260.40L350.92 262.30L348.92 260.40Z"/>
<path d="M353.85 261.80L355.85 263.70L353.85 265.60L351.85 263.70Z"/>
<path d="M356.77 264.20L358.77 266.10L356.77 268.00L354.77 266.10Z"/>
<path d="M362.62 266.60L364.62 268.50L362.62 270.40L360.62 268.50Z"/>
<path d="M371.39 270.00L373.39 271.90L371.39 273.80L369.39 271.90Z"/>
<path d="M377.23 266.60L379.23 268.50L377.23 270.40L375.23 268.50Z"/>
<path d="M383.08 264.20L385.08 266.10L383.08 268.00L381.08 266.10Z"/>
<path d="M388.93 265.80L390.93 267.70L388.93 269.60L386.93 267.70Z"/>
<path d="M394.77 267.60L396.77 269.50L394.77 271.40L392.77 269.50Z"/>
<path d="M400.62 268.40L402.62 270.30L400.62 272.20L398.62 270.30Z"/>
<path d="M409.39 264.40L411.39 266.30L409.39 268.20L407.39 266.30Z"/>
<path d="M415.24 265.40L417.24 267.30L415.24 269.20L413.24 267.30Z"/>
<path d="M421.09 261.40L423.09 263.30L421.09 265.20L419.09 263.30Z"/>
<path d="M429.86 265.10L431.86 267.00L429.86 268.90L427.86 267.00Z"/>
<path d="M435.70 264.30L437.70 266.20L435.70 268.10L433.70 266.20Z"/>
<path d="M441.55 272.10L443.55 274.00L441.55 275.90L439.55 274.00Z"/>
<path d="M450.32 270.20L452.32 272.10L450.32 274.00L448.32 272.10Z"/>
<path d="M456.17 273.70L458.17 275.60L456.17 277.50L454.17 275.60Z"/>
<path d="M459.09 267.40L461.09 269.30L459.09 271.20L457.09 269.30Z"/>
<path d="M462.02 268.80L464.02 270.70L462.02 272.60L460.02 270.70Z"/>
<path d="M464.94 272.80L466.94 274.70L464.94 276.60L462.94 274.70Z"/>
<path d="M467.86 276.20L469.86 278.10L467.86 280.00L465.86 278.10Z"/>
<path d="M470.79 284.50L472.79 286.40L470.79 288.30L468.79 286.40Z"/>
</g>
</g>
<g id="panelC">
<path d="M87.8 415.80V536.30" stroke="#000" stroke-width="1.8" fill="none"/>
<path d="M83.10 531.6H503.90" stroke="#000" stroke-width="1.7" fill="none"/>
<path d="M83.10 515.66H87.8M83.10 499.71H87.8M83.10 483.77H87.8M83.10 467.83H87.8M83.10 451.89H87.8M83.10 435.94H87.8M83.10 420.00H87.8M117.14 531.6V536.30M146.49 531.6V536.30M175.83 531.6V536.30M205.17 531.6V536.30M234.51 531.6V536.30M263.86 531.6V536.30M293.20 531.6V536.30M322.54 531.6V536.30M351.89 531.6V536.30M381.23 531.6V536.30M410.57 531.6V536.30M439.91 531.6V536.30M469.26 531.6V536.30M498.60 531.6V536.30" stroke="#000" stroke-width="1.5" fill="none"/>
<text transform="translate(78.60 535.30) scale(1.203 1)" font-size="10.4" text-anchor="end" fill="#1c1c1c">0</text>
<text transform="translate(78.60 519.36) scale(1.203 1)" font-size="10.4" text-anchor="end" fill="#1c1c1c">50</text>
<text transform="translate(78.60 503.41) scale(1.203 1)" font-size="10.4" text-anchor="end" fill="#1c1c1c">100</text>
<text transform="translate(78.60 487.47) scale(1.203 1)" font-size="10.4" text-anchor="end" fill="#1c1c1c">150</text>
<text transform="translate(78.60 471.53) scale(1.203 1)" font-size="10.4" text-anchor="end" fill="#1c1c1c">200</text>
<text transform="translate(78.60 455.59) scale(1.203 1)" font-size="10.4" text-anchor="end" fill="#1c1c1c">250</text>
<text transform="translate(78.60 439.64) scale(1.203 1)" font-size="10.4" text-anchor="end" fill="#1c1c1c">300</text>
<text transform="translate(78.60 423.70) scale(1.203 1)" font-size="10.4" text-anchor="end" fill="#1c1c1c">350</text>
<text transform="translate(88.00 550.60) scale(1.203 1)" font-size="10.4" text-anchor="middle" fill="#1c1c1c">0</text>
<text transform="translate(117.34 550.60) scale(1.203 1)" font-size="10.4" text-anchor="middle" fill="#1c1c1c">10</text>
<text transform="translate(146.69 550.60) scale(1.203 1)" font-size="10.4" text-anchor="middle" fill="#1c1c1c">20</text>
<text transform="translate(176.03 550.60) scale(1.203 1)" font-size="10.4" text-anchor="middle" fill="#1c1c1c">30</text>
<text transform="translate(205.37 550.60) scale(1.203 1)" font-size="10.4" text-anchor="middle" fill="#1c1c1c">40</text>
<text transform="translate(234.71 550.60) scale(1.203 1)" font-size="10.4" text-anchor="middle" fill="#1c1c1c">50</text>
<text transform="translate(264.06 550.60) scale(1.203 1)" font-size="10.4" text-anchor="middle" fill="#1c1c1c">60</text>
<text transform="translate(293.40 550.60) scale(1.203 1)" font-size="10.4" text-anchor="middle" fill="#1c1c1c">70</text>
<text transform="translate(322.74 550.60) scale(1.203 1)" font-size="10.4" text-anchor="middle" fill="#1c1c1c">80</text>
<text transform="translate(352.09 550.60) scale(1.203 1)" font-size="10.4" text-anchor="middle" fill="#1c1c1c">90</text>
<text transform="translate(381.43 550.60) scale(1.203 1)" font-size="10.4" text-anchor="middle" fill="#1c1c1c">100</text>
<text transform="translate(410.77 550.60) scale(1.203 1)" font-size="10.4" text-anchor="middle" fill="#1c1c1c">110</text>
<text transform="translate(440.11 550.60) scale(1.203 1)" font-size="10.4" text-anchor="middle" fill="#1c1c1c">120</text>
<text transform="translate(469.46 550.60) scale(1.203 1)" font-size="10.4" text-anchor="middle" fill="#1c1c1c">130</text>
<text transform="translate(498.80 550.60) scale(1.203 1)" font-size="10.4" text-anchor="middle" fill="#1c1c1c">140</text>
<g fill="#2b416c">
<path d="M236.70 523.60L240.30 531.00L237.40 530.10L237.40 534.00L236.00 534.00L236.00 530.10L233.10 531.00Z"/>
<path d="M247.50 526.60L251.10 534.00L248.20 533.10L248.20 536.50L246.80 536.50L246.80 533.10L243.90 534.00Z"/>
<path d="M253.70 527.40L257.30 534.80L254.40 533.90L254.40 537.30L253.00 537.30L253.00 533.90L250.10 534.80Z"/>
<path d="M256.20 518.00L259.80 525.40L256.90 524.50L256.90 527.80L255.50 527.80L255.50 524.50L252.60 525.40Z"/>
<path d="M262.20 526.20L265.80 533.60L262.90 532.70L262.90 536.40L261.50 536.40L261.50 532.70L258.60 533.60Z"/>
<path d="M264.60 526.40L268.20 533.80L265.30 532.90L265.30 535.50L263.90 535.50L263.90 532.90L261.00 533.80Z"/>
<path d="M267.60 520.50L271.20 527.90L268.30 527.00L268.30 532.40L266.90 532.40L266.90 527.00L264.00 527.90Z"/>
</g>
<g fill="#800d2d">
<path d="M87.80 503.65L90.85 506.60L87.80 509.55L84.75 506.60Z"/>
<path d="M93.67 504.30L96.72 507.25L93.67 510.20L90.62 507.25Z"/>
<path d="M96.60 503.75L99.65 506.70L96.60 509.65L93.55 506.70Z"/>
<path d="M105.41 494.05L108.46 497.00L105.41 499.95L102.36 497.00Z"/>
<path d="M114.21 494.05L117.26 497.00L114.21 499.95L111.16 497.00Z"/>
<path d="M120.08 496.95L123.13 499.90L120.08 502.85L117.03 499.90Z"/>
<path d="M123.01 497.15L126.06 500.10L123.01 503.05L119.96 500.10Z"/>
<path d="M125.95 491.95L129.00 494.90L125.95 497.85L122.90 494.90Z"/>
<path d="M128.88 491.45L131.93 494.40L128.88 497.35L125.83 494.40Z"/>
<path d="M131.81 495.85L134.86 498.80L131.81 501.75L128.76 498.80Z"/>
<path d="M134.75 491.45L137.80 494.40L134.75 497.35L131.70 494.40Z"/>
<path d="M137.68 485.55L140.73 488.50L137.68 491.45L134.63 488.50Z"/>
<path d="M140.62 491.45L143.67 494.40L140.62 497.35L137.57 494.40Z"/>
<path d="M143.55 483.55L146.60 486.50L143.55 489.45L140.50 486.50Z"/>
<path d="M146.49 470.55L149.54 473.50L146.49 476.45L143.44 473.50Z"/>
<path d="M149.42 470.55L152.47 473.50L149.42 476.45L146.37 473.50Z"/>
<path d="M152.35 469.55L155.40 472.50L152.35 475.45L149.30 472.50Z"/>
<path d="M155.29 474.15L158.34 477.10L155.29 480.05L152.24 477.10Z"/>
<path d="M161.16 460.65L164.21 463.60L161.16 466.55L158.11 463.60Z"/>
<path d="M167.03 466.85L170.08 469.80L167.03 472.75L163.98 469.80Z"/>
<path d="M172.89 473.65L175.94 476.60L172.89 479.55L169.84 476.60Z"/>
<path d="M175.83 471.20L178.88 474.15L175.83 477.10L172.78 474.15Z"/>
<path d="M181.70 462.95L184.75 465.90L181.70 468.85L178.65 465.90Z"/>
<path d="M187.57 467.75L190.62 470.70L187.57 473.65L184.52 470.70Z"/>
<path d="M193.43 475.95L196.48 478.90L193.43 481.85L190.38 478.90Z"/>
<path d="M196.37 491.95L199.42 494.90L196.37 497.85L193.32 494.90Z"/>
<path d="M208.11 499.95L211.16 502.90L208.11 505.85L205.06 502.90Z"/>
<path d="M213.97 498.25L217.02 501.20L213.97 504.15L210.92 501.20Z"/>
<path d="M225.71 503.45L228.76 506.40L225.71 509.35L222.66 506.40Z"/>
<path d="M228.65 504.15L231.70 507.10L228.65 510.05L225.60 507.10Z"/>
<path d="M231.58 508.75L234.63 511.70L231.58 514.65L228.53 511.70Z"/>
<path d="M234.51 514.95L237.56 517.90L234.51 520.85L231.46 517.90Z"/>
<path d="M239.21 512.55L242.26 515.50L239.21 518.45L236.16 515.50Z"/>
<path d="M237.45 518.65L240.50 521.60L237.45 524.55L234.40 521.60Z"/>
<path d="M240.38 521.35L243.43 524.30L240.38 527.25L237.33 524.30Z"/>
<path d="M243.32 523.65L246.37 526.60L243.32 529.55L240.27 526.60Z"/>
<path d="M246.25 522.65L249.30 525.60L246.25 528.55L243.20 525.60Z"/>
<path d="M249.19 515.70L252.24 518.65L249.19 521.60L246.14 518.65Z"/>
<path d="M252.12 523.95L255.17 526.90L252.12 529.85L249.07 526.90Z"/>
<path d="M253.59 503.45L256.64 506.40L253.59 509.35L250.54 506.40Z"/>
<path d="M255.05 510.05L258.10 513.00L255.05 515.95L252.00 513.00Z"/>
<path d="M256.81 495.30L259.86 498.25L256.81 501.20L253.76 498.25Z"/>
<path d="M257.99 513.05L261.04 516.00L257.99 518.95L254.94 516.00Z"/>
<path d="M260.92 522.95L263.97 525.90L260.92 528.85L257.87 525.90Z"/>
<path d="M263.86 521.45L266.91 524.40L263.86 527.35L260.81 524.40Z"/>
<path d="M265.32 516.55L268.37 519.50L265.32 522.45L262.27 519.50Z"/>
<path d="M266.79 503.45L269.84 506.40L266.79 509.35L263.74 506.40Z"/>
<path d="M269.73 516.25L272.78 519.20L269.73 522.15L266.68 519.20Z"/>
<path d="M272.66 516.85L275.71 519.80L272.66 522.75L269.61 519.80Z"/>
<path d="M275.59 514.55L278.64 517.50L275.59 520.45L272.54 517.50Z"/>
<path d="M278.53 509.75L281.58 512.70L278.53 515.65L275.48 512.70Z"/>
<path d="M281.46 495.85L284.51 498.80L281.46 501.75L278.41 498.80Z"/>
<path d="M284.40 486.55L287.45 489.50L284.40 492.45L281.35 489.50Z"/>
<path d="M287.33 473.65L290.38 476.60L287.33 479.55L284.28 476.60Z"/>
<path d="M290.27 464.45L293.32 467.40L290.27 470.35L287.22 467.40Z"/>
<path d="M293.20 448.15L296.25 451.10L293.20 454.05L290.15 451.10Z"/>
<path d="M296.13 453.20L299.18 456.15L296.13 459.10L293.08 456.15Z"/>
<path d="M299.07 447.85L302.12 450.80L299.07 453.75L296.02 450.80Z"/>
<path d="M302.00 446.05L305.05 449.00L302.00 451.95L298.95 449.00Z"/>
<path d="M304.94 444.15L307.99 447.10L304.94 450.05L301.89 447.10Z"/>
<path d="M307.87 450.25L310.92 453.20L307.87 456.15L304.82 453.20Z"/>
<path d="M310.81 453.85L313.86 456.80L310.81 459.75L307.76 456.80Z"/>
<path d="M313.74 442.15L316.79 445.10L313.74 448.05L310.69 445.10Z"/>
<path d="M316.67 439.95L319.72 442.90L316.67 445.85L313.62 442.90Z"/>
<path d="M319.61 432.25L322.66 435.20L319.61 438.15L316.56 435.20Z"/>
<path d="M322.54 438.15L325.59 441.10L322.54 444.05L319.49 441.10Z"/>
<path d="M325.48 426.55L328.53 429.50L325.48 432.45L322.43 429.50Z"/>
<path d="M328.41 423.45L331.46 426.40L328.41 429.35L325.36 426.40Z"/>
<path d="M331.35 425.55L334.40 428.50L331.35 431.45L328.30 428.50Z"/>
<path d="M334.28 428.25L337.33 431.20L334.28 434.15L331.23 431.20Z"/>
<path d="M337.21 423.45L340.26 426.40L337.21 429.35L334.16 426.40Z"/>
<path d="M340.15 433.85L343.20 436.80L340.15 439.75L337.10 436.80Z"/>
<path d="M343.08 439.65L346.13 442.60L343.08 445.55L340.03 442.60Z"/>
<path d="M346.02 445.45L349.07 448.40L346.02 451.35L342.97 448.40Z"/>
<path d="M348.95 447.75L352.00 450.70L348.95 453.65L345.90 450.70Z"/>
<path d="M351.89 445.45L354.94 448.40L351.89 451.35L348.84 448.40Z"/>
<path d="M354.82 454.05L357.87 457.00L354.82 459.95L351.77 457.00Z"/>
<path d="M357.75 452.45L360.80 455.40L357.75 458.35L354.70 455.40Z"/>
<path d="M363.62 453.25L366.67 456.20L363.62 459.15L360.57 456.20Z"/>
<path d="M372.43 430.90L375.48 433.85L372.43 436.80L369.38 433.85Z"/>
<path d="M378.29 430.90L381.34 433.85L378.29 436.80L375.24 433.85Z"/>
<path d="M384.16 424.15L387.21 427.10L384.16 430.05L381.11 427.10Z"/>
<path d="M390.03 423.75L393.08 426.70L390.03 429.65L386.98 426.70Z"/>
<path d="M395.90 425.55L398.95 428.50L395.90 431.45L392.85 428.50Z"/>
<path d="M401.77 425.75L404.82 428.70L401.77 431.65L398.72 428.70Z"/>
<path d="M410.57 430.90L413.62 433.85L410.57 436.80L407.52 433.85Z"/>
<path d="M416.44 433.55L419.49 436.50L416.44 439.45L413.39 436.50Z"/>
<path d="M422.31 447.25L425.36 450.20L422.31 453.15L419.26 450.20Z"/>
<path d="M431.11 461.20L434.16 464.15L431.11 467.10L428.06 464.15Z"/>
<path d="M436.98 487.95L440.03 490.90L436.98 493.85L433.93 490.90Z"/>
<path d="M442.85 495.15L445.90 498.10L442.85 501.05L439.80 498.10Z"/>
<path d="M451.65 476.75L454.70 479.70L451.65 482.65L448.60 479.70Z"/>
<path d="M457.52 480.75L460.57 483.70L457.52 486.65L454.47 483.70Z"/>
<path d="M460.45 489.55L463.50 492.50L460.45 495.45L457.40 492.50Z"/>
<path d="M463.39 491.55L466.44 494.50L463.39 497.45L460.34 494.50Z"/>
<path d="M466.32 489.55L469.37 492.50L466.32 495.45L463.27 492.50Z"/>
<path d="M469.26 492.95L472.31 495.90L469.26 498.85L466.21 495.90Z"/>
<path d="M472.19 496.00L475.24 498.95L472.19 501.90L469.14 498.95Z"/>
</g>
<g fill="#b00f37">
<path d="M87.80 504.70L89.80 506.60L87.80 508.50L85.80 506.60Z"/>
<path d="M93.67 505.35L95.67 507.25L93.67 509.15L91.67 507.25Z"/>
<path d="M96.60 504.80L98.60 506.70L96.60 508.60L94.60 506.70Z"/>
<path d="M105.41 495.10L107.41 497.00L105.41 498.90L103.41 497.00Z"/>
<path d="M114.21 495.10L116.21 497.00L114.21 498.90L112.21 497.00Z"/>
<path d="M120.08 498.00L122.08 499.90L120.08 501.80L118.08 499.90Z"/>
<path d="M123.01 498.20L125.01 500.10L123.01 502.00L121.01 500.10Z"/>
<path d="M125.95 493.00L127.95 494.90L125.95 496.80L123.95 494.90Z"/>
<path d="M128.88 492.50L130.88 494.40L128.88 496.30L126.88 494.40Z"/>
<path d="M131.81 496.90L133.81 498.80L131.81 500.70L129.81 498.80Z"/>
<path d="M134.75 492.50L136.75 494.40L134.75 496.30L132.75 494.40Z"/>
<path d="M137.68 486.60L139.68 488.50L137.68 490.40L135.68 488.50Z"/>
<path d="M140.62 492.50L142.62 494.40L140.62 496.30L138.62 494.40Z"/>
<path d="M143.55 484.60L145.55 486.50L143.55 488.40L141.55 486.50Z"/>
<path d="M146.49 471.60L148.49 473.50L146.49 475.40L144.49 473.50Z"/>
<path d="M149.42 471.60L151.42 473.50L149.42 475.40L147.42 473.50Z"/>
<path d="M152.35 470.60L154.35 472.50L152.35 474.40L150.35 472.50Z"/>
<path d="M155.29 475.20L157.29 477.10L155.29 479.00L153.29 477.10Z"/>
<path d="M161.16 461.70L163.16 463.60L161.16 465.50L159.16 463.60Z"/>
<path d="M167.03 467.90L169.03 469.80L167.03 471.70L165.03 469.80Z"/>
<path d="M172.89 474.70L174.89 476.60L172.89 478.50L170.89 476.60Z"/>
<path d="M175.83 472.25L177.83 474.15L175.83 476.05L173.83 474.15Z"/>
<path d="M181.70 464.00L183.70 465.90L181.70 467.80L179.70 465.90Z"/>
<path d="M187.57 468.80L189.57 470.70L187.57 472.60L185.57 470.70Z"/>
<path d="M193.43 477.00L195.43 478.90L193.43 480.80L191.43 478.90Z"/>
<path d="M196.37 493.00L198.37 494.90L196.37 496.80L194.37 494.90Z"/>
<path d="M208.11 501.00L210.11 502.90L208.11 504.80L206.11 502.90Z"/>
<path d="M213.97 499.30L215.97 501.20L213.97 503.10L211.97 501.20Z"/>
<path d="M225.71 504.50L227.71 506.40L225.71 508.30L223.71 506.40Z"/>
<path d="M228.65 505.20L230.65 507.10L228.65 509.00L226.65 507.10Z"/>
<path d="M231.58 509.80L233.58 511.70L231.58 513.60L229.58 511.70Z"/>
<path d="M234.51 516.00L236.51 517.90L234.51 519.80L232.51 517.90Z"/>
<path d="M239.21 513.60L241.21 515.50L239.21 517.40L237.21 515.50Z"/>
<path d="M237.45 519.70L239.45 521.60L237.45 523.50L235.45 521.60Z"/>
<path d="M240.38 522.40L242.38 524.30L240.38 526.20L238.38 524.30Z"/>
<path d="M243.32 524.70L245.32 526.60L243.32 528.50L241.32 526.60Z"/>
<path d="M246.25 523.70L248.25 525.60L246.25 527.50L244.25 525.60Z"/>
<path d="M249.19 516.75L251.19 518.65L249.19 520.55L247.19 518.65Z"/>
<path d="M252.12 525.00L254.12 526.90L252.12 528.80L250.12 526.90Z"/>
<path d="M253.59 504.50L255.59 506.40L253.59 508.30L251.59 506.40Z"/>
<path d="M255.05 511.10L257.05 513.00L255.05 514.90L253.05 513.00Z"/>
<path d="M256.81 496.35L258.81 498.25L256.81 500.15L254.81 498.25Z"/>
<path d="M257.99 514.10L259.99 516.00L257.99 517.90L255.99 516.00Z"/>
<path d="M260.92 524.00L262.92 525.90L260.92 527.80L258.92 525.90Z"/>
<path d="M263.86 522.50L265.86 524.40L263.86 526.30L261.86 524.40Z"/>
<path d="M265.32 517.60L267.32 519.50L265.32 521.40L263.32 519.50Z"/>
<path d="M266.79 504.50L268.79 506.40L266.79 508.30L264.79 506.40Z"/>
<path d="M269.73 517.30L271.73 519.20L269.73 521.10L267.73 519.20Z"/>
<path d="M272.66 517.90L274.66 519.80L272.66 521.70L270.66 519.80Z"/>
<path d="M275.59 515.60L277.59 517.50L275.59 519.40L273.59 517.50Z"/>
<path d="M278.53 510.80L280.53 512.70L278.53 514.60L276.53 512.70Z"/>
<path d="M281.46 496.90L283.46 498.80L281.46 500.70L279.46 498.80Z"/>
<path d="M284.40 487.60L286.40 489.50L284.40 491.40L282.40 489.50Z"/>
<path d="M287.33 474.70L289.33 476.60L287.33 478.50L285.33 476.60Z"/>
<path d="M290.27 465.50L292.27 467.40L290.27 469.30L288.27 467.40Z"/>
<path d="M293.20 449.20L295.20 451.10L293.20 453.00L291.20 451.10Z"/>
<path d="M296.13 454.25L298.13 456.15L296.13 458.05L294.13 456.15Z"/>
<path d="M299.07 448.90L301.07 450.80L299.07 452.70L297.07 450.80Z"/>
<path d="M302.00 447.10L304.00 449.00L302.00 450.90L300.00 449.00Z"/>
<path d="M304.94 445.20L306.94 447.10L304.94 449.00L302.94 447.10Z"/>
<path d="M307.87 451.30L309.87 453.20L307.87 455.10L305.87 453.20Z"/>
<path d="M310.81 454.90L312.81 456.80L310.81 458.70L308.81 456.80Z"/>
<path d="M313.74 443.20L315.74 445.10L313.74 447.00L311.74 445.10Z"/>
<path d="M316.67 441.00L318.67 442.90L316.67 444.80L314.67 442.90Z"/>
<path d="M319.61 433.30L321.61 435.20L319.61 437.10L317.61 435.20Z"/>
<path d="M322.54 439.20L324.54 441.10L322.54 443.00L320.54 441.10Z"/>
<path d="M325.48 427.60L327.48 429.50L325.48 431.40L323.48 429.50Z"/>
<path d="M328.41 424.50L330.41 426.40L328.41 428.30L326.41 426.40Z"/>
<path d="M331.35 426.60L333.35 428.50L331.35 430.40L329.35 428.50Z"/>
<path d="M334.28 429.30L336.28 431.20L334.28 433.10L332.28 431.20Z"/>
<path d="M337.21 424.50L339.21 426.40L337.21 428.30L335.21 426.40Z"/>
<path d="M340.15 434.90L342.15 436.80L340.15 438.70L338.15 436.80Z"/>
<path d="M343.08 440.70L345.08 442.60L343.08 444.50L341.08 442.60Z"/>
<path d="M346.02 446.50L348.02 448.40L346.02 450.30L344.02 448.40Z"/>
<path d="M348.95 448.80L350.95 450.70L348.95 452.60L346.95 450.70Z"/>
<path d="M351.89 446.50L353.89 448.40L351.89 450.30L349.89 448.40Z"/>
<path d="M354.82 455.10L356.82 457.00L354.82 458.90L352.82 457.00Z"/>
<path d="M357.75 453.50L359.75 455.40L357.75 457.30L355.75 455.40Z"/>
<path d="M363.62 454.30L365.62 456.20L363.62 458.10L361.62 456.20Z"/>
<path d="M372.43 431.95L374.43 433.85L372.43 435.75L370.43 433.85Z"/>
<path d="M378.29 431.95L380.29 433.85L378.29 435.75L376.29 433.85Z"/>
<path d="M384.16 425.20L386.16 427.10L384.16 429.00L382.16 427.10Z"/>
<path d="M390.03 424.80L392.03 426.70L390.03 428.60L388.03 426.70Z"/>
<path d="M395.90 426.60L397.90 428.50L395.90 430.40L393.90 428.50Z"/>
<path d="M401.77 426.80L403.77 428.70L401.77 430.60L399.77 428.70Z"/>
<path d="M410.57 431.95L412.57 433.85L410.57 435.75L408.57 433.85Z"/>
<path d="M416.44 434.60L418.44 436.50L416.44 438.40L414.44 436.50Z"/>
<path d="M422.31 448.30L424.31 450.20L422.31 452.10L420.31 450.20Z"/>
<path d="M431.11 462.25L433.11 464.15L431.11 466.05L429.11 464.15Z"/>
<path d="M436.98 489.00L438.98 490.90L436.98 492.80L434.98 490.90Z"/>
<path d="M442.85 496.20L444.85 498.10L442.85 500.00L440.85 498.10Z"/>
<path d="M451.65 477.80L453.65 479.70L451.65 481.60L449.65 479.70Z"/>
<path d="M457.52 481.80L459.52 483.70L457.52 485.60L455.52 483.70Z"/>
<path d="M460.45 490.60L462.45 492.50L460.45 494.40L458.45 492.50Z"/>
<path d="M463.39 492.60L465.39 494.50L463.39 496.40L461.39 494.50Z"/>
<path d="M466.32 490.60L468.32 492.50L466.32 494.40L464.32 492.50Z"/>
<path d="M469.26 494.00L471.26 495.90L469.26 497.80L467.26 495.90Z"/>
<path d="M472.19 497.05L474.19 498.95L472.19 500.85L470.19 498.95Z"/>
</g>
</g>
<text transform="translate(10.8 25.1) scale(1.04 1)" font-size="17" font-weight="bold" fill="#000" stroke="#000" stroke-width="0.5" stroke-linejoin="round">A</text>
<text transform="translate(10.8 219.7) scale(1.04 1)" font-size="17" font-weight="bold" fill="#000" stroke="#000" stroke-width="0.5" stroke-linejoin="round">B</text>
<text transform="translate(10.8 404.9) scale(1.04 1)" font-size="17" font-weight="bold" fill="#000" stroke="#000" stroke-width="0.5" stroke-linejoin="round">C</text>
<text transform="translate(34.6 103.2) rotate(-90) scale(0.84 1)" font-size="12" text-anchor="middle" fill="#1c1c1c" stroke="#1c1c1c" stroke-width="0.4" stroke-linejoin="round">PB lym count /uL</text>
<text transform="translate(55.6 287.2) rotate(-90) scale(0.765 1)" font-size="13" text-anchor="middle" fill="#1c1c1c" stroke="#1c1c1c" stroke-width="0.4" stroke-linejoin="round">Hb g/dL</text>
<text transform="translate(48.9 473.3) rotate(-90) scale(0.79 1)" font-size="13" text-anchor="middle" fill="#1c1c1c" stroke="#1c1c1c" stroke-width="0.4" stroke-linejoin="round">Plt count/uL</text>
<text transform="translate(295.7 570.4) scale(0.72 1)" font-size="13" text-anchor="middle" fill="#1c1c1c" stroke="#1c1c1c" stroke-width="0.4" stroke-linejoin="round">Days</text>
<text x="88.5" y="44.3" font-size="10.6" fill="#1c1c1c" stroke="#1c1c1c" stroke-width="0.15">Alemtuzumab</text>
<text x="166.0" y="44.3" font-size="10.68" fill="#1c1c1c" stroke="#1c1c1c" stroke-width="0.15">Tofacitinib/Alemtuzumab</text>
<path d="M120.00 51.2H121.70V70.20L124.55 68.40L120.85 77.4L117.15 68.40L120.00 70.20Z" fill="#000"/>
<path d="M217.90 51.2H219.60V70.20L222.45 68.40L218.75 77.4L215.05 68.40L217.90 70.20Z" fill="#000"/>
</svg>
</body></html>
